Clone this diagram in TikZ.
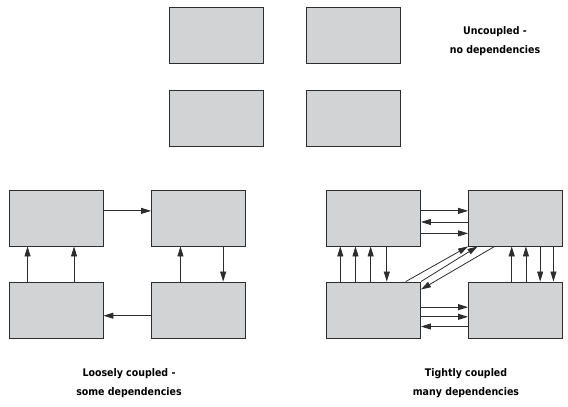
\documentclass[tikz,border=0pt]{standalone}
\usepackage{fontspec}
\setmainfont{DejaVu Sans Condensed}
\usepackage{tikz}
\usetikzlibrary{arrows.meta,calc,positioning}
\definecolor{boxfill}{RGB}{210,211,213}
\definecolor{boxline}{RGB}{45,45,45}

\begin{document}
\begin{tikzpicture}[x=1pt, y=-1pt,
    module/.style={rectangle, draw=boxline, fill=boxfill, line width=0.9pt,
                   minimum width=94pt, minimum height=56pt, inner sep=0pt},
    dep/.style={-{Triangle[length=10pt, width=6pt]}, line width=0.8pt, draw=boxline},
    caption/.style={align=center, font=\bfseries\fontsize{10.5}{19}\selectfont}
]
    \useasboundingbox (0,0) rectangle (568,407);

    % Uncoupled
    \node[module] (u1) at (216.5, 35.5) {};
    \node[module] (u2) at (353.5, 35.5) {};
    \node[module] (u3) at (216.5, 118) {};
    \node[module] (u4) at (353.5, 118) {};
    \node[caption] (ucap) at (495, 41) {Uncoupled -\\no dependencies};

    % Loosely coupled
    \node[module] (l1) at (56, 218) {};
    \node[module] (l2) at (198.5, 218) {};
    \node[module] (l3) at (56, 310) {};
    \node[module] (l4) at (198.5, 310) {};
    \node[caption] (lcap) at (129, 383) {Loosely coupled -\\some dependencies};

    \draw[dep] ($(l1.north east)!0.375!(l1.south east)$) -- ($(l2.north west)!0.375!(l2.south west)$);
    \draw[dep] ($(l4.north west)!0.6!(l4.south west)$) -- ($(l3.north east)!0.6!(l3.south east)$);
    \foreach \f in {0.2,0.69}
        \draw[dep] ($(l3.north west)!\f!(l3.north east)$) -- ($(l1.south west)!\f!(l1.south east)$);
    \draw[dep] ($(l4.north west)!0.31!(l4.north east)$) -- ($(l2.south west)!0.31!(l2.south east)$);
    \draw[dep] ($(l2.south west)!0.76!(l2.south east)$) -- ($(l4.north west)!0.76!(l4.north east)$);

    % Tightly coupled
    \node[module] (t1) at (373.5, 218) {};
    \node[module] (t2) at (515.5, 218) {};
    \node[module] (t3) at (373.5, 310) {};
    \node[module] (t4) at (515.5, 310) {};
    \node[caption] (tcap) at (466, 383) {Tightly coupled\\many dependencies};

    \foreach \f in {0.375,0.77}
        \draw[dep] ($(t1.north east)!\f!(t1.south east)$) -- ($(t2.north west)!\f!(t2.south west)$);
    \draw[dep] ($(t2.north west)!0.57!(t2.south west)$) -- ($(t1.north east)!0.57!(t1.south east)$);
    \foreach \f in {0.45,0.62}
        \draw[dep] ($(t3.north east)!\f!(t3.south east)$) -- ($(t4.north west)!\f!(t4.south west)$);
    \draw[dep] ($(t4.north west)!0.79!(t4.south west)$) -- ($(t3.north east)!0.79!(t3.south east)$);
    \foreach \f in {0.15,0.31,0.47}
        \draw[dep] ($(t3.north west)!\f!(t3.north east)$) -- ($(t1.south west)!\f!(t1.south east)$);
    \draw[dep] ($(t1.south west)!0.64!(t1.south east)$) -- ($(t3.north west)!0.64!(t3.north east)$);
    \foreach \f in {0.46,0.61}
        \draw[dep] ($(t4.north west)!\f!(t4.north east)$) -- ($(t2.south west)!\f!(t2.south east)$);
    \foreach \f in {0.76,0.9}
        \draw[dep] ($(t2.south west)!\f!(t2.south east)$) -- ($(t4.north west)!\f!(t4.north east)$);
    % diagonals
    \draw[dep] ($(t3.north west)!0.84!(t3.north east)$) -- (t2.south west);
    \draw[dep] (t3.north east) -- ($(t2.south west)!0.1!(t2.south east)$);
    \draw[dep] ($(t2.south west)!0.28!(t2.south east)$) -- ($(t3.north east)!0.14!(t3.south east)$);
\end{tikzpicture}
\end{document}
